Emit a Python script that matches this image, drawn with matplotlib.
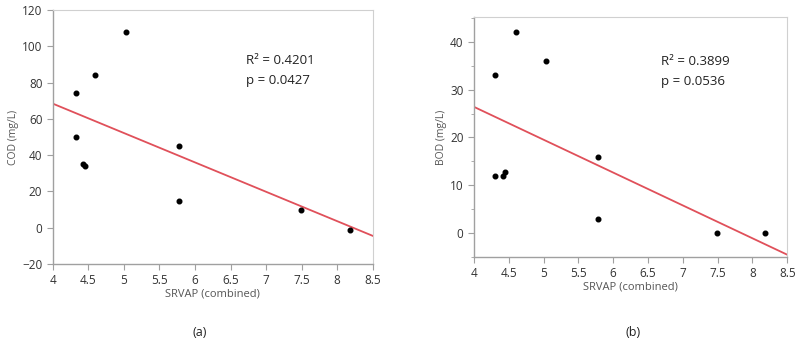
import numpy as np
import matplotlib.pyplot as plt
from matplotlib.ticker import MultipleLocator

# SRVAP (combined) values, same sites in both panels
srvap_cod = [4.32, 4.32, 4.42, 4.45, 4.60, 5.03, 5.78, 5.78, 7.49, 8.18]
cod = [74, 50, 35, 34, 84, 108, 45, 15, 9.5, -1]

srvap_bod = [4.30, 4.30, 4.42, 4.45, 4.60, 5.03, 5.78, 5.78, 7.49, 8.18]
bod = [33, 12, 12, 12.7, 42, 36, 16, 3, 0, 0]

# fitted lines (end points at x = 4 and 8.5)
fit_x = [4, 8.5]
cod_fit = [68.4, -4.5]
bod_fit = [26.4, -4.5]

xticks = [4, 4.5, 5, 5.5, 6, 6.5, 7, 7.5, 8, 8.5]
xticklabels = ['4', '4.5', '5', '5.5', '6', '6.5', '7', '7.5', '8', '8.5']

plt.rcParams['font.family'] = ['Open Sans', 'DejaVu Sans']

fig = plt.figure(figsize=(8, 3.46), dpi=100)
ax1 = fig.add_axes([0.066, 0.237, 0.400, 0.734])
ax2 = fig.add_axes([0.5925, 0.257, 0.3915, 0.694])

def style_axis(ax):
    for s in ['top', 'right']:
        ax.spines[s].set_color('#d0d0d0')
        ax.spines[s].set_linewidth(0.8)
    for s in ['left', 'bottom']:
        ax.spines[s].set_color('#a0a0a0')
        ax.spines[s].set_linewidth(1.0)
    ax.tick_params(which='both', direction='out', color='#a0a0a0',
                   labelsize=8.5, labelcolor='#333333')
    ax.tick_params(which='major', length=4)
    ax.tick_params(which='minor', length=2)
    ax.set_xlim(4, 8.5)
    ax.set_xticks(xticks)
    ax.set_xticklabels(xticklabels)
    ax.set_xlabel('SRVAP (combined)', fontsize=8, color='#555555', labelpad=1)

# (a) COD
ax1.plot(fit_x, cod_fit, color='#e0505a', lw=1.3, zorder=2)
ax1.scatter(srvap_cod, cod, s=11, color='black', zorder=3)
ax1.set_ylim(-20, 120)
ax1.set_yticks(range(-20, 121, 20))
style_axis(ax1)
ax1.set_ylabel('COD (mg/L)', fontsize=7.5, color='#555555', labelpad=2)
ax1.text(6.72, 92, 'R² = 0.4201', fontsize=9.5, color='#222222', va='center')
ax1.text(6.72, 81, 'p = 0.0427', fontsize=9.5, color='#222222', va='center')
fig.text(0.25, 0.04, '(a)', fontsize=9, ha='center', va='center', color='#222222')

# (b) BOD
ax2.plot(fit_x, bod_fit, color='#e0505a', lw=1.3, zorder=2)
ax2.scatter(srvap_bod, bod, s=11, color='black', zorder=3)
ax2.set_ylim(-5, 45.2)
ax2.set_yticks([0, 10, 20, 30, 40])
ax2.yaxis.set_minor_locator(MultipleLocator(5))
style_axis(ax2)
ax2.set_ylabel('BOD (mg/L)', fontsize=7.5, color='#555555', labelpad=2)
ax2.text(6.69, 35.8, 'R² = 0.3899', fontsize=9.5, color='#222222', va='center')
ax2.text(6.69, 31.7, 'p = 0.0536', fontsize=9.5, color='#222222', va='center')
fig.text(0.791, 0.04, '(b)', fontsize=9, ha='center', va='center', color='#222222')

fig.savefig('out.png', dpi=100)
